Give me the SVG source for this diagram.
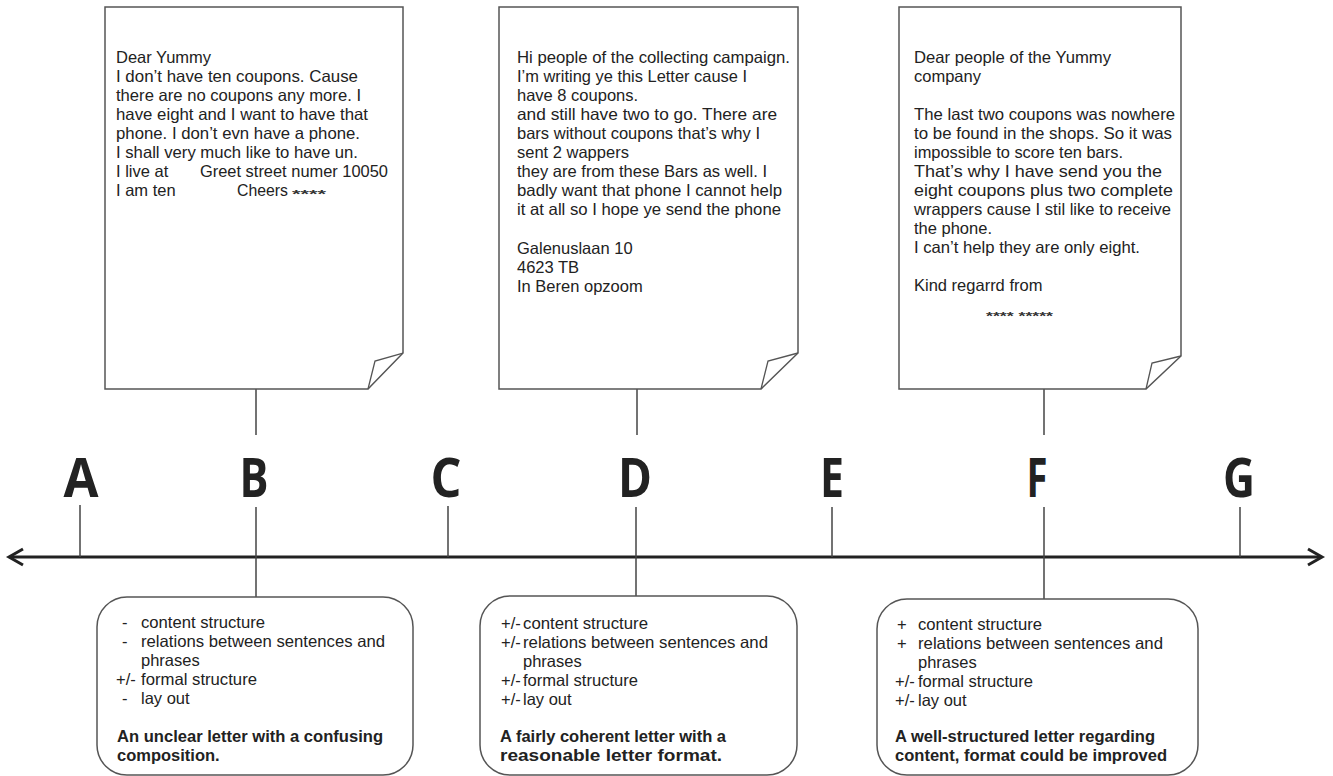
<svg xmlns="http://www.w3.org/2000/svg" width="1333" height="776" viewBox="0 0 1333 776">
<style>
.page{fill:#fff;stroke:#555;stroke-width:1.5;stroke-linejoin:miter}
.fold{fill:none;stroke:#555;stroke-width:1.3}
.box{fill:#fff;stroke:#555;stroke-width:1.5}
.t{font-family:"Liberation Sans",Arial,sans-serif;font-size:16.5px;fill:#222}
.b{font-family:"Liberation Sans",Arial,sans-serif;font-size:16.5px;font-weight:bold;fill:#222}
.ast{font-family:"Liberation Sans",Arial,sans-serif;font-size:11px;font-weight:bold;fill:#333}
.lab{font-family:"Open Sans","DejaVu Sans",sans-serif;font-size:54px;font-weight:bold;fill:#222;text-anchor:middle}
.tick{stroke:#444;stroke-width:1.5;fill:none}
.axis{stroke:#222;stroke-width:3;fill:none}
</style>
<rect width="1333" height="776" fill="#fff"/>

<g id="connectors">
<line class="axis" x1="10" y1="557" x2="1321" y2="557"/>
<polyline class="axis" points="23,549 9,557 23,565"/>
<polyline class="axis" points="1308,549 1322,557 1308,565"/>
<line class="tick" x1="80" y1="505" x2="80" y2="557"/>
<line class="tick" x1="448" y1="506" x2="448" y2="557"/>
<line class="tick" x1="832" y1="507" x2="832" y2="557"/>
<line class="tick" x1="1240" y1="507" x2="1240" y2="557"/>
<line class="tick" x1="256" y1="389" x2="256" y2="435"/>
<line class="tick" x1="637" y1="389" x2="637" y2="435"/>
<line class="tick" x1="1044" y1="389" x2="1044" y2="435"/>
<line class="tick" x1="256" y1="507" x2="256" y2="597"/>
<line class="tick" x1="636" y1="507" x2="636" y2="596"/>
<line class="tick" x1="1044" y1="507" x2="1044" y2="599"/>
</g>

<g id="labels">
<text class="lab" x="81" y="497" textLength="35" lengthAdjust="spacingAndGlyphs">A</text>
<text class="lab" x="254" y="497" textLength="29" lengthAdjust="spacingAndGlyphs">B</text>
<text class="lab" x="446" y="497" textLength="31" lengthAdjust="spacingAndGlyphs">C</text>
<text class="lab" x="635" y="497" textLength="34" lengthAdjust="spacingAndGlyphs">D</text>
<text class="lab" x="832" y="497" textLength="24" lengthAdjust="spacingAndGlyphs">E</text>
<text class="lab" x="1037" y="497" textLength="21" lengthAdjust="spacingAndGlyphs">F</text>
<text class="lab" x="1239" y="497" textLength="32" lengthAdjust="spacingAndGlyphs">G</text>
</g>

<g id="letter-B">
<path class="page" d="M105,7 H403 V353 L368,389 H105 Z"/>
<polyline class="fold" points="368,389 375,361 403,353"/>
<text class="t" x="116" y="63">Dear Yummy</text>
<text class="t" x="116" y="82" textLength="242" lengthAdjust="spacingAndGlyphs">I don’t have ten coupons. Cause</text>
<text class="t" x="116" y="101" textLength="245" lengthAdjust="spacingAndGlyphs">there are no coupons any more. I</text>
<text class="t" x="116" y="120" textLength="252" lengthAdjust="spacingAndGlyphs">have eight and I want to have that</text>
<text class="t" x="116" y="139" textLength="244" lengthAdjust="spacingAndGlyphs">phone. I don’t evn have a phone.</text>
<text class="t" x="116" y="158" textLength="242" lengthAdjust="spacingAndGlyphs">I shall very much like to have un.</text>
<text class="t" x="116" y="177">I live at</text>
<text class="t" x="200" y="177" textLength="188" lengthAdjust="spacingAndGlyphs">Greet street numer 10050</text>
<text class="t" x="116" y="196">I am ten</text>
<text class="t" x="237" y="196" textLength="51" lengthAdjust="spacingAndGlyphs">Cheers</text>
<text class="ast" x="292" y="198" textLength="34" lengthAdjust="spacingAndGlyphs">****</text>
</g>

<g id="letter-D">
<path class="page" d="M499,7 H798 V353 L761,389 H499 Z"/>
<polyline class="fold" points="761,389 768,361 798,353"/>
<text class="t" x="517" y="63" textLength="273" lengthAdjust="spacingAndGlyphs">Hi people of the collecting campaign.</text>
<text class="t" x="517" y="82" textLength="230" lengthAdjust="spacingAndGlyphs">I’m writing ye this Letter cause I</text>
<text class="t" x="517" y="101">have 8 coupons.</text>
<text class="t" x="517" y="120" textLength="260" lengthAdjust="spacingAndGlyphs">and still have two to go. There are</text>
<text class="t" x="517" y="139" textLength="243" lengthAdjust="spacingAndGlyphs">bars without coupons that’s why I</text>
<text class="t" x="517" y="158">sent 2 wappers</text>
<text class="t" x="517" y="177" textLength="250" lengthAdjust="spacingAndGlyphs">they are from these Bars as well. I</text>
<text class="t" x="517" y="196" textLength="265" lengthAdjust="spacingAndGlyphs">badly want that phone I cannot help</text>
<text class="t" x="517" y="215" textLength="264" lengthAdjust="spacingAndGlyphs">it at all so I hope ye send the phone</text>
<text class="t" x="517" y="254">Galenuslaan 10</text>
<text class="t" x="517" y="273">4623 TB</text>
<text class="t" x="517" y="292">In Beren opzoom</text>
</g>

<g id="letter-F">
<path class="page" d="M899,7 H1181 V356 L1146,389 H899 Z"/>
<polyline class="fold" points="1146,389 1152,363 1181,356"/>
<text class="t" x="914" y="63" textLength="197" lengthAdjust="spacingAndGlyphs">Dear people of the Yummy</text>
<text class="t" x="914" y="82">company</text>
<text class="t" x="914" y="120" textLength="261" lengthAdjust="spacingAndGlyphs">The last two coupons was nowhere</text>
<text class="t" x="914" y="139" textLength="258" lengthAdjust="spacingAndGlyphs">to be found in the shops. So it was</text>
<text class="t" x="914" y="158" textLength="209" lengthAdjust="spacingAndGlyphs">impossible to score ten bars.</text>
<text class="t" x="914" y="177" textLength="248" lengthAdjust="spacingAndGlyphs">That’s why I have send you the</text>
<text class="t" x="914" y="196" textLength="259" lengthAdjust="spacingAndGlyphs">eight coupons plus two complete</text>
<text class="t" x="914" y="215" textLength="257" lengthAdjust="spacingAndGlyphs">wrappers cause I stil like to receive</text>
<text class="t" x="914" y="234">the phone.</text>
<text class="t" x="914" y="253" textLength="226" lengthAdjust="spacingAndGlyphs">I can’t help they are only eight.</text>
<text class="t" x="914" y="291">Kind regarrd from</text>
<text class="ast" x="986" y="320" textLength="67" lengthAdjust="spacingAndGlyphs">**** *****</text>
</g>

<g id="summary-B">
<rect class="box" x="97" y="597" width="316" height="178" rx="30"/>
<text class="t" x="122" y="628">-</text>
<text class="t" x="141" y="628" textLength="124" lengthAdjust="spacingAndGlyphs">content structure</text>
<text class="t" x="122" y="647">-</text>
<text class="t" x="141" y="647" textLength="244" lengthAdjust="spacingAndGlyphs">relations between sentences and</text>
<text class="t" x="141" y="666">phrases</text>
<text class="t" x="116" y="685">+/-</text>
<text class="t" x="141" y="685" textLength="116" lengthAdjust="spacingAndGlyphs">formal structure</text>
<text class="t" x="122" y="704">-</text>
<text class="t" x="141" y="704">lay out</text>
<text class="b" x="117" y="742" textLength="266" lengthAdjust="spacingAndGlyphs">An unclear letter with a confusing</text>
<text class="b" x="117" y="761">composition.</text>
</g>

<g id="summary-D">
<rect class="box" x="480" y="596" width="317" height="179" rx="30"/>
<text class="t" x="501" y="629">+/-</text>
<text class="t" x="523" y="629" textLength="125" lengthAdjust="spacingAndGlyphs">content structure</text>
<text class="t" x="501" y="648">+/-</text>
<text class="t" x="523" y="648" textLength="245" lengthAdjust="spacingAndGlyphs">relations between sentences and</text>
<text class="t" x="523" y="667">phrases</text>
<text class="t" x="501" y="686">+/-</text>
<text class="t" x="523" y="686" textLength="115" lengthAdjust="spacingAndGlyphs">formal structure</text>
<text class="t" x="501" y="705">+/-</text>
<text class="t" x="523" y="705">lay out</text>
<text class="b" x="500" y="742" textLength="226" lengthAdjust="spacingAndGlyphs">A fairly coherent letter with a</text>
<text class="b" x="500" y="761" textLength="222" lengthAdjust="spacingAndGlyphs">reasonable letter format.</text>
</g>

<g id="summary-F">
<rect class="box" x="877" y="599" width="321" height="176" rx="30"/>
<text class="t" x="897" y="630">+</text>
<text class="t" x="918" y="630" textLength="124" lengthAdjust="spacingAndGlyphs">content structure</text>
<text class="t" x="897" y="649">+</text>
<text class="t" x="918" y="649" textLength="245" lengthAdjust="spacingAndGlyphs">relations between sentences and</text>
<text class="t" x="918" y="668">phrases</text>
<text class="t" x="895" y="687">+/-</text>
<text class="t" x="918" y="687" textLength="115" lengthAdjust="spacingAndGlyphs">formal structure</text>
<text class="t" x="895" y="706">+/-</text>
<text class="t" x="918" y="706">lay out</text>
<text class="b" x="895" y="742" textLength="260" lengthAdjust="spacingAndGlyphs">A well-structured letter regarding</text>
<text class="b" x="895" y="761" textLength="272" lengthAdjust="spacingAndGlyphs">content, format could be improved</text>
</g>
</svg>
